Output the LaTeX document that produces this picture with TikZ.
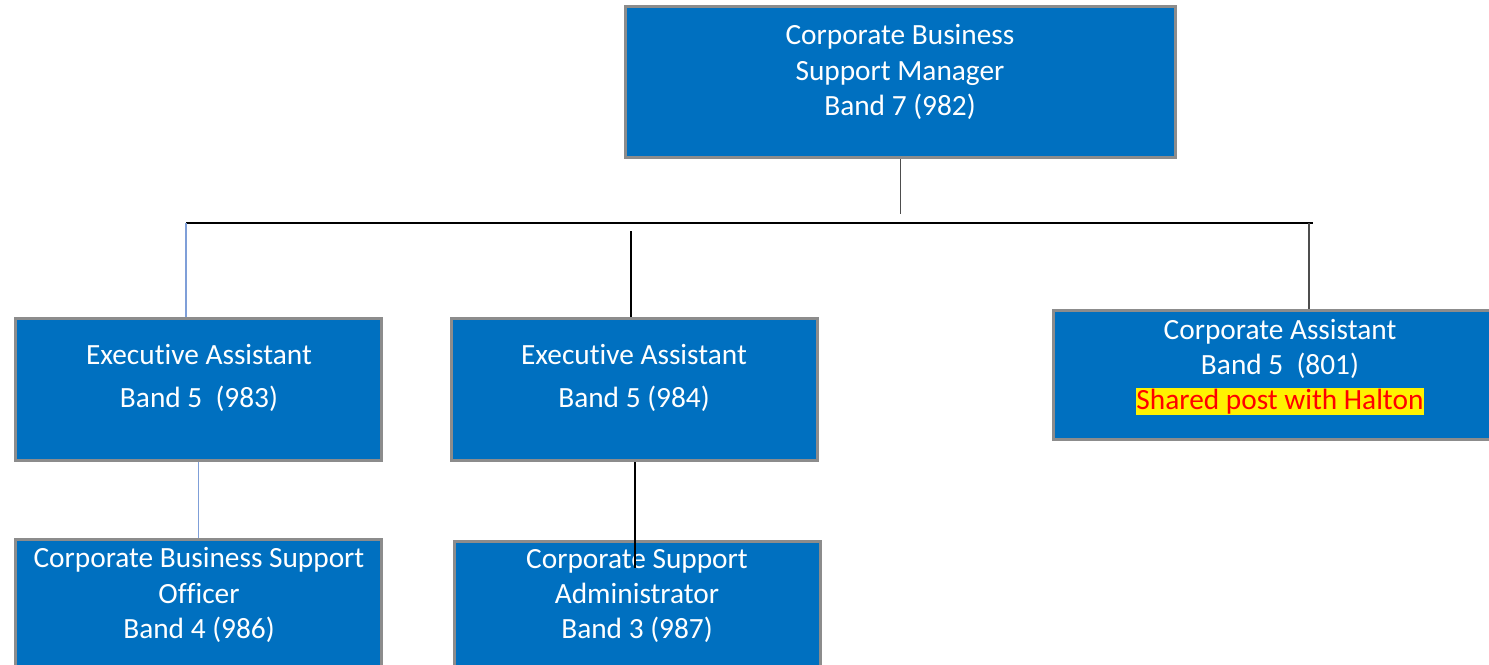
\documentclass[tikz,border=0pt]{standalone}
\usepackage{fontspec}
\setmainfont{Carlito}[RawFeature=-liga]
\usepackage{tikz}
\usetikzlibrary{positioning}

\definecolor{postblue}{HTML}{0070C0}
\definecolor{postedge}{HTML}{8C8C8C}
\definecolor{linkgray}{HTML}{4D4D4D}
\definecolor{linkblue}{HTML}{7F9FD8}

\begin{document}
\begin{tikzpicture}[
  x=0.02cm, y=-0.02cm,
  post/.style={draw=postedge, fill=postblue, line width=0.06cm, inner sep=0pt},
  txt/.style={text=white, align=center, font=\fontsize{16.7}{20}\selectfont, inner sep=0pt},
  link/.style={line width=0.027cm, black},
  graylink/.style={line width=0.027cm, linkgray},
  bluelink/.style={line width=0.027cm, linkblue}
]

\useasboundingbox (0,0) rectangle (1489,664);

%% ── boxes ────────────────────────────────────────────────────────────────────
\node[post, minimum width=11.02cm, minimum height=3.04cm] (mgr) at (900.5,82) {};
\node[post, minimum width=7.34cm, minimum height=2.86cm] (ea1) at (198.5,389.5) {};
\node[post, minimum width=7.34cm, minimum height=2.86cm] (ea2) at (634.5,389.5) {};
\node[post, minimum width=9.08cm, minimum height=2.60cm] (ca) at (1280,375) {};
\node[post, minimum width=7.34cm, minimum height=2.86cm] (cbso) at (198.5,610.5) {};
\node[post, minimum width=7.34cm, minimum height=2.86cm] (csa) at (637.5,612.5) {};

%% ── texts ────────────────────────────────────────────────────────────────────
\node[txt] (mgr-txt) at (900,72)
  {Corporate Business\\Support Manager\\Band 7 (982)};
\node[txt] (ea1-txt) at (199,378)
  {Executive Assistant\\[4pt]Band 5~~(983)};
\node[txt] (ea2-txt) at (634,378)
  {Executive Assistant\\[4pt]Band 5 (984)};
\node[txt] (ca-txt) at (1280,367)
  {Corporate Assistant\\Band 5~~(801)\\{\fboxsep=0.5pt\colorbox{yellow}{\color{red}Shared post with Halton}}};
\node[txt] (cbso-txt) at (199,595)
  {Corporate Business Support\\Officer\\Band 4 (986)};
\node[txt] (csa-txt) at (637,596)
  {Corporate Support\\Administrator\\Band 3 (987)};

%% ── connectors ───────────────────────────────────────────────────────────────
\coordinate (drop) at (900.5,214);
\coordinate (busL) at (186,223);
\coordinate (busR) at (1313,223);
\coordinate (midTop) at (631,231);
\coordinate (rightTop) at (1309,223);
\coordinate (csaEnd) at (635,568);

\draw[graylink] (mgr.south) -- (drop);
\draw[link] (busL) -- (busR);
\draw[bluelink] (busL) -- (busL |- ea1.north);
\draw[link] (midTop) -- (midTop |- ea2.north);
\draw[graylink] (rightTop) -- (rightTop |- ca.north);
\draw[bluelink] (ea1.south) -- (cbso.north);
\draw[link] (ea2.south -| csaEnd) -- (csaEnd);

\end{tikzpicture}
\end{document}
